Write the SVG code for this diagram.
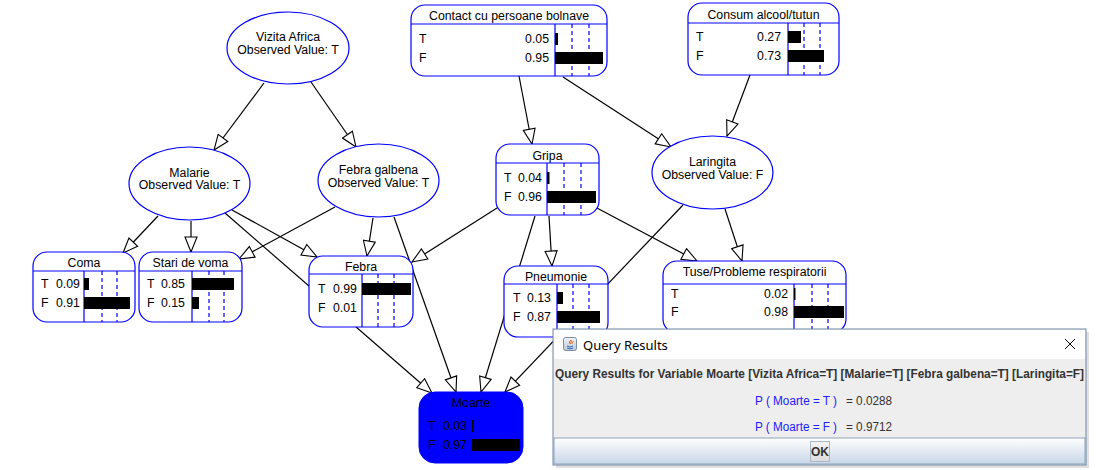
<svg xmlns="http://www.w3.org/2000/svg" width="1100" height="470" viewBox="0 0 1100 470">
<defs>
<style>
.t{font-family:"Liberation Sans",Arial,sans-serif;font-size:12.3px;fill:#000}
.c{text-anchor:middle}
.e{text-anchor:end}
.box{fill:#fff;stroke:#0000ff;stroke-width:1.2}
.ell{fill:#fff;stroke:#0000ff;stroke-width:1.2}
.sep{stroke:#0000ff;stroke-width:1.2}
.dash{stroke:#0000ff;stroke-width:1.2;stroke-dasharray:4 3}
.bar{fill:#000}
.edge{stroke:#000;stroke-width:1.2;fill:none;marker-end:url(#arr)}
.dt{font-family:"Liberation Sans",Arial,sans-serif;font-size:12px}
</style>
<marker id="arr" markerUnits="userSpaceOnUse" viewBox="-1 -1 17 14" markerWidth="17" markerHeight="14" refX="15" refY="6" orient="auto">
<path d="M0,0 L15,6 L0,12 Z" fill="#fff" stroke="#000" stroke-width="1.1"/>
</marker>
<linearGradient id="btnbar" x1="0" y1="0" x2="0" y2="1">
<stop offset="0" stop-color="#ffffff"/>
<stop offset="1" stop-color="#c8d7e8"/>
</linearGradient>
<linearGradient id="ok" x1="0" y1="0" x2="0" y2="1">
<stop offset="0" stop-color="#f4f4f4"/>
<stop offset="1" stop-color="#dcdcdc"/>
</linearGradient>
<linearGradient id="icon" x1="0" y1="0" x2="0" y2="1">
<stop offset="0" stop-color="#f0f3f7"/>
<stop offset="1" stop-color="#b9c6d6"/>
</linearGradient>
</defs>
<rect width="1100" height="470" fill="#fff"/>

<g id="connectors">
<line class="edge" x1="264" y1="83" x2="214" y2="150"/>
<line class="edge" x1="311" y1="82" x2="356" y2="147"/>
<line class="edge" x1="519" y1="76" x2="532" y2="144"/>
<line class="edge" x1="563" y1="77" x2="671" y2="147"/>
<line class="edge" x1="750" y1="75" x2="727" y2="136"/>
<line class="edge" x1="158" y1="216" x2="123" y2="253"/>
<line class="edge" x1="191" y1="221" x2="191" y2="252"/>
<line class="edge" x1="232" y1="210" x2="317" y2="257"/>
<line class="edge" x1="225" y1="213" x2="432" y2="393"/>
<line class="edge" x1="335" y1="207" x2="239" y2="259"/>
<line class="edge" x1="373" y1="218" x2="367" y2="256"/>
<line class="edge" x1="394" y1="217" x2="456" y2="392"/>
<line class="edge" x1="497" y1="208" x2="412" y2="262"/>
<line class="edge" x1="549" y1="216" x2="552" y2="266"/>
<line class="edge" x1="535" y1="216" x2="481" y2="392"/>
<line class="edge" x1="595" y1="207" x2="697" y2="261"/>
<line class="edge" x1="725" y1="209" x2="742" y2="261"/>
<line class="edge" x1="683" y1="205" x2="505" y2="392"/>
</g>

<g id="vizita-africa">
<ellipse class="ell" cx="288" cy="48" rx="61" ry="36"/>
<text class="t c" x="288" y="41">Vizita Africa</text>
<text class="t c" x="288" y="54">Observed Value: T</text>
</g>

<g id="malarie">
<ellipse class="ell" cx="189.5" cy="183.5" rx="60.5" ry="36.5"/>
<text class="t c" x="189.5" y="177">Malarie</text>
<text class="t c" x="189.5" y="189">Observed Value: T</text>
</g>

<g id="febra-galbena">
<ellipse class="ell" cx="378.5" cy="180.5" rx="60.5" ry="36.5"/>
<text class="t c" x="378.5" y="174">Febra galbena</text>
<text class="t c" x="378.5" y="187">Observed Value: T</text>
</g>

<g id="laringita">
<ellipse class="ell" cx="712.5" cy="172.5" rx="60.5" ry="36.5"/>
<text class="t c" x="712.5" y="166">Laringita</text>
<text class="t c" x="712.5" y="179">Observed Value: F</text>
</g>

<g id="contact">
<rect class="box" x="411" y="5" width="196" height="71" rx="14"/>
<line class="sep" x1="411" y1="24" x2="607" y2="24"/>
<line class="sep" x1="555" y1="24" x2="555" y2="76"/>
<line class="dash" x1="572" y1="24" x2="572" y2="76"/>
<line class="dash" x1="589" y1="24" x2="589" y2="76"/>
<rect class="bar" x="555" y="33" width="3" height="12"/>
<rect class="bar" x="555" y="52" width="48" height="12"/>
<text class="t c" x="509" y="20">Contact cu persoane bolnave</text>
<text class="t" x="419" y="43">T</text>
<text class="t" x="419" y="62">F</text>
<text class="t e" x="549" y="43">0.05</text>
<text class="t e" x="549" y="62">0.95</text>
</g>

<g id="consum">
<rect class="box" x="688" y="3" width="151" height="72" rx="14"/>
<line class="sep" x1="688" y1="23" x2="839" y2="23"/>
<line class="sep" x1="788" y1="23" x2="788" y2="75"/>
<line class="dash" x1="804" y1="23" x2="804" y2="75"/>
<line class="dash" x1="820" y1="23" x2="820" y2="75"/>
<rect class="bar" x="788" y="31" width="13" height="12"/>
<rect class="bar" x="788" y="50" width="36" height="12"/>
<text class="t c" x="763.5" y="19">Consum alcool/tutun</text>
<text class="t" x="696" y="41">T</text>
<text class="t" x="696" y="60">F</text>
<text class="t e" x="781" y="41">0.27</text>
<text class="t e" x="781" y="60">0.73</text>
</g>

<g id="gripa">
<rect class="box" x="496" y="144" width="103" height="71" rx="14"/>
<line class="sep" x1="496" y1="163" x2="599" y2="163"/>
<line class="sep" x1="547" y1="163" x2="547" y2="215"/>
<line class="dash" x1="564" y1="163" x2="564" y2="215"/>
<line class="dash" x1="581" y1="163" x2="581" y2="215"/>
<rect class="bar" x="547" y="172" width="2.5" height="12"/>
<rect class="bar" x="547" y="191" width="49" height="12"/>
<text class="t c" x="547.5" y="160">Gripa</text>
<text class="t" x="504" y="182">T</text>
<text class="t" x="504" y="201">F</text>
<text class="t" x="518" y="182">0.04</text>
<text class="t" x="518" y="201">0.96</text>
</g>

<g id="coma">
<rect class="box" x="33" y="252" width="102" height="70" rx="14"/>
<line class="sep" x1="33" y1="271" x2="135" y2="271"/>
<line class="sep" x1="84" y1="271" x2="84" y2="322"/>
<line class="dash" x1="102" y1="271" x2="102" y2="322"/>
<line class="dash" x1="117" y1="271" x2="117" y2="322"/>
<rect class="bar" x="84" y="278" width="5" height="12"/>
<rect class="bar" x="84" y="297" width="46" height="12"/>
<text class="t c" x="84" y="267">Coma</text>
<text class="t" x="41" y="288">T</text>
<text class="t" x="41" y="307">F</text>
<text class="t" x="56" y="288">0.09</text>
<text class="t" x="56" y="307">0.91</text>
</g>

<g id="stari-de-voma">
<rect class="box" x="139" y="252" width="103" height="70" rx="14"/>
<line class="sep" x1="139" y1="271" x2="242" y2="271"/>
<line class="sep" x1="192" y1="271" x2="192" y2="322"/>
<line class="dash" x1="209" y1="271" x2="209" y2="322"/>
<line class="dash" x1="224" y1="271" x2="224" y2="322"/>
<rect class="bar" x="192" y="278" width="42" height="12"/>
<rect class="bar" x="192" y="297" width="7" height="12"/>
<text class="t c" x="190.5" y="267">Stari de voma</text>
<text class="t" x="147" y="288">T</text>
<text class="t" x="147" y="307">F</text>
<text class="t" x="161" y="288">0.85</text>
<text class="t" x="161" y="307">0.15</text>
</g>

<g id="febra">
<rect class="box" x="309" y="256" width="104" height="71" rx="14"/>
<line class="sep" x1="309" y1="274" x2="413" y2="274"/>
<line class="sep" x1="362" y1="274" x2="362" y2="327"/>
<line class="dash" x1="378" y1="274" x2="378" y2="327"/>
<line class="dash" x1="394" y1="274" x2="394" y2="327"/>
<rect class="bar" x="362" y="283" width="49" height="12"/>
<text class="t c" x="361" y="271">Febra</text>
<text class="t" x="318" y="293">T</text>
<text class="t" x="318" y="312">F</text>
<text class="t" x="333" y="293">0.99</text>
<text class="t" x="333" y="312">0.01</text>
</g>

<g id="pneumonie">
<rect class="box" x="504" y="266" width="104" height="71" rx="14"/>
<line class="sep" x1="504" y1="284" x2="608" y2="284"/>
<line class="sep" x1="557" y1="284" x2="557" y2="337"/>
<line class="dash" x1="573" y1="284" x2="573" y2="337"/>
<line class="dash" x1="589" y1="284" x2="589" y2="337"/>
<rect class="bar" x="557" y="292" width="6" height="12"/>
<rect class="bar" x="557" y="311" width="43" height="12"/>
<text class="t c" x="556" y="281">Pneumonie</text>
<text class="t" x="513" y="302">T</text>
<text class="t" x="513" y="321">F</text>
<text class="t" x="527" y="302">0.13</text>
<text class="t" x="527" y="321">0.87</text>
</g>

<g id="tuse">
<rect class="box" x="663" y="261" width="183" height="72" rx="14"/>
<line class="sep" x1="663" y1="284" x2="846" y2="284"/>
<line class="sep" x1="794" y1="284" x2="794" y2="333"/>
<line class="dash" x1="812" y1="284" x2="812" y2="333"/>
<line class="dash" x1="828" y1="284" x2="828" y2="333"/>
<rect class="bar" x="794" y="288" width="1.5" height="12"/>
<rect class="bar" x="794" y="306" width="50" height="12"/>
<text class="t c" x="754.5" y="276">Tuse/Probleme respiratorii</text>
<text class="t" x="671" y="298">T</text>
<text class="t" x="671" y="316">F</text>
<text class="t e" x="788" y="298">0.02</text>
<text class="t e" x="788" y="316">0.98</text>
</g>

<g id="moarte">
<rect x="419" y="392" width="104" height="71" rx="16" fill="#0000ff" stroke="#0000ff"/>
<text class="t c" x="471" y="407">Moarte</text>
<rect class="bar" x="472" y="420" width="1.5" height="12"/>
<rect class="bar" x="472" y="439" width="48" height="12"/>
<text class="t" x="428" y="430">T</text>
<text class="t" x="428" y="449">F</text>
<text class="t" x="443" y="430">0.03</text>
<text class="t" x="443" y="449">0.97</text>
</g>

<g id="query-results-dialog">
<rect x="556" y="332" width="533" height="136" fill="#000" opacity="0.12"/>
<rect x="553" y="329" width="533" height="136" fill="#eeeeee" stroke="#6d87a6" stroke-width="1"/>
<rect x="554" y="330" width="531" height="29" fill="#ffffff"/>
<rect x="563.5" y="337.5" width="13" height="13" rx="2" fill="url(#icon)" stroke="#7b8ea6"/>
<path d="M567,346 q3,2 6,0 M567,348 q3,1.5 6,0" stroke="#3b6cb3" stroke-width="1" fill="none"/>
<path d="M570,344 q-2,-2 1,-4 q1,2 -1,4 M572,344 q0,-2 1.5,-3" stroke="#e07020" stroke-width="1" fill="none"/>
<text x="583" y="349.5" fill="#000" font-family="'Noto Sans','Liberation Sans',sans-serif" font-size="13">Query Results</text>
<path d="M1065,339 L1075,349 M1075,339 L1065,349" stroke="#000" stroke-width="1"/>
<text class="dt" x="555" y="378" fill="#333" font-weight="bold" textLength="529" lengthAdjust="spacingAndGlyphs">Query Results for Variable Moarte [Vizita Africa=T] [Malarie=T] [Febra galbena=T] [Laringita=F]</text>
<text class="dt" x="755" y="404.5" fill="#2020ff" font-size="13" textLength="82" lengthAdjust="spacingAndGlyphs">P ( Moarte = T )</text>
<text class="dt" x="846" y="404.5" fill="#333" font-size="13" textLength="46" lengthAdjust="spacingAndGlyphs">= 0.0288</text>
<text class="dt" x="755" y="430.5" fill="#2020ff" font-size="13" textLength="82" lengthAdjust="spacingAndGlyphs">P ( Moarte = F )</text>
<text class="dt" x="846" y="430.5" fill="#333" font-size="13" textLength="46" lengthAdjust="spacingAndGlyphs">= 0.9712</text>
<rect x="554" y="438" width="531" height="26" fill="url(#btnbar)" stroke="#8da2bb" stroke-width="1"/>
<rect x="810.5" y="441.5" width="19" height="20" fill="url(#ok)" stroke="#a9b7c6" stroke-width="1"/>
<text class="dt c" x="820" y="456" fill="#333" font-weight="bold">OK</text>
</g>
</svg>
